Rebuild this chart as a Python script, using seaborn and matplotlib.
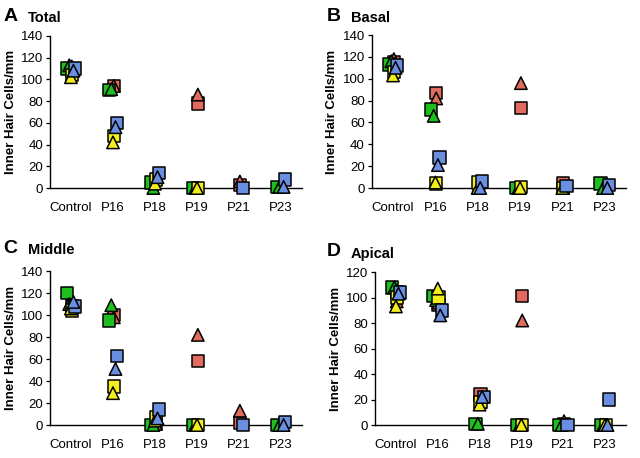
import matplotlib
matplotlib.use("Agg")
import matplotlib.pyplot as plt
import numpy as np
import pandas as pd
import seaborn as sns

days = ["Control", "P16", "P18", "P19", "P21", "P23"]
# series: colour + marker, drawn in this order (nan = not visible / no animal that day)
series = ["R_sq", "R_tri", "G_sq", "G_tri", "Y_sq", "Y_tri", "B_sq", "B_tri"]
nan = np.nan

total = {
    "R_sq": [108, 94, nan, 78, 3, nan],
    "R_tri": [112, 94, nan, 86, 6, nan],
    "G_sq": [110, 90, 5, 0, nan, 1],
    "G_tri": [113, 91, 0, 0, nan, 1],
    "Y_sq": [104, 48, 8, 0, nan, nan],
    "Y_tri": [102, 42, 4, 0, nan, nan],
    "B_sq": [110, 60, 14, nan, 0, 8],
    "B_tri": [108, 56, 10, nan, nan, 1],
}
basal = {
    "R_sq": [115, 87, nan, 73, 4, nan],
    "R_tri": [118, 82, 2, 96, 0, nan],
    "G_sq": [113, 72, nan, 0, nan, 4],
    "G_tri": [116, 66, nan, 0, nan, 0],
    "Y_sq": [106, 4, 5, 1, 0, nan],
    "Y_tri": [103, 5, 0, 0, 0, nan],
    "B_sq": [112, 28, 6, nan, 2, 3],
    "B_tri": [110, 21, 0, nan, nan, 0],
}
middle = {
    "R_sq": [108, 100, 1, 58, 2, nan],
    "R_tri": [110, 98, 1, 82, 13, nan],
    "G_sq": [120, 95, 0, 0, nan, 0],
    "G_tri": [110, 109, 0, 0, nan, 0],
    "Y_sq": [104, 35, 7, 0, nan, nan],
    "Y_tri": [106, 29, 4, 0, nan, nan],
    "B_sq": [108, 63, 14, nan, 0, 3],
    "B_tri": [112, 51, 6, nan, nan, 0],
}
apical = {
    "R_sq": [104, 94, 24, 101, 1, nan],
    "R_tri": [97, 96, 18, 82, 3, nan],
    "G_sq": [108, 101, 1, 0, 0, 0],
    "G_tri": [108, 98, 1, 0, 0, 0],
    "Y_sq": [100, 100, 18, 0, nan, 0],
    "Y_tri": [93, 107, 16, 0, nan, 0],
    "B_sq": [104, 90, 22, nan, 0, 20],
    "B_tri": [103, 86, 22, nan, nan, 0],
}

colors = {"R": "#E06B5E", "G": "#1DBE1D", "Y": "#F2EE1E", "B": "#6A8EE0"}
markers = {"sq": "s", "tri": "^"}
offsets = {"R_sq": 0.02, "R_tri": 0.02, "G_sq": -0.1, "G_tri": -0.04,
           "Y_sq": 0.02, "Y_tri": 0.0, "B_sq": 0.1, "B_tri": 0.06}

plt.rcParams["font.family"] = ["Liberation Sans", "DejaVu Sans"]

fig = plt.figure(figsize=(6.4, 4.58), dpi=100)

panels = [
    ("A", "Total", total, [0.078, 0.5895, 0.394, 0.332], 140),
    ("B", "Basal", basal, [0.581, 0.5895, 0.397, 0.334], 140),
    ("C", "Middle", middle, [0.078, 0.072, 0.394, 0.336], 140),
    ("D", "Apical", apical, [0.586, 0.072, 0.392, 0.334], 120),
]
letter_pos = {"A": (0.005, 0.965), "B": (0.51, 0.965), "C": (0.005, 0.458), "D": (0.51, 0.45)}

for letter, name, data, rect, ymax in panels:
    ax = fig.add_axes(rect)
    rows = []
    for s in series:
        c, m = s.split("_")
        for i, v in enumerate(data[s]):
            if np.isnan(v):
                continue
            rows.append({"x": i + offsets[s], "y": v, "col": c, "mk": m})
    df = pd.DataFrame(rows)
    sns.scatterplot(data=df, x="x", y="y", hue="col", style="mk",
                    palette=colors, markers=markers, s=80,
                    edgecolor="black", linewidth=1.1, legend=False,
                    clip_on=False, zorder=3, ax=ax)
    ax.set_xlim(-0.5, 5.5)
    ax.set_ylim(0, ymax)
    ax.set_yticks(np.arange(0, ymax + 1, 20))
    ax.set_xticks(range(len(days)))
    ax.set_xticklabels(days)
    ax.tick_params(axis="x", length=0, pad=10, labelsize=9.5)
    ax.tick_params(axis="y", length=3, width=0.9, labelsize=9.5, pad=2)
    ax.set_xlabel("")
    ax.set_ylabel("Inner Hair Cells/mm", fontsize=9.5, fontweight="bold", labelpad=3)
    sns.despine(ax=ax)
    for sp in ["left", "bottom"]:
        ax.spines[sp].set_linewidth(1.0)
    lx, ly = letter_pos[letter]
    fig.text(lx, ly, letter, fontsize=14, fontweight="bold", va="center")
    fig.text(lx + 0.038, ly - 0.004, name, fontsize=10.5, fontweight="bold", va="center")

fig.savefig("out.png", dpi=100)
